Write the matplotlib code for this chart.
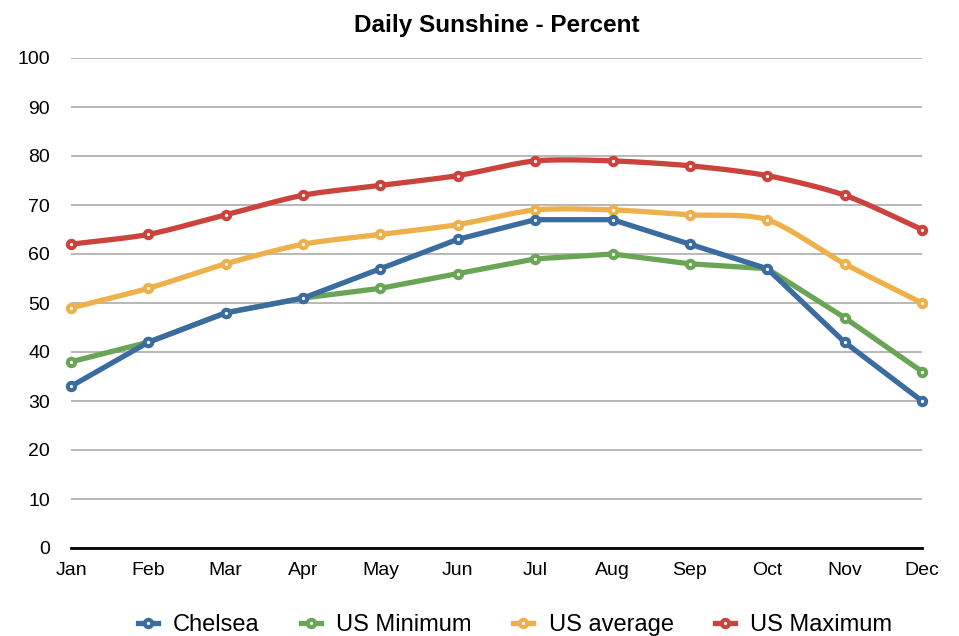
import numpy as np
import matplotlib
matplotlib.use("Agg")
import matplotlib.pyplot as plt
from matplotlib.lines import Line2D

plt.rcParams['font.family'] = ['Liberation Sans', 'DejaVu Sans']

months = ['Jan', 'Feb', 'Mar', 'Apr', 'May', 'Jun', 'Jul', 'Aug', 'Sep', 'Oct', 'Nov', 'Dec']
chelsea = [33, 42, 48, 51, 57, 63, 67, 67, 62, 57, 42, 30]
us_min = [38, 42, 48, 51, 53, 56, 59, 60, 58, 57, 47, 36]
us_avg = [49, 53, 58, 62, 64, 66, 69, 69, 68, 67, 58, 50]
us_max = [62, 64, 68, 72, 74, 76, 79, 79, 78, 76, 72, 65]

series = [
    ('Chelsea', chelsea, '#3b6ca0', False),
    ('US Minimum', us_min, '#6aa555', False),
    ('US average', us_avg, '#eeb04a', True),
    ('US Maximum', us_max, '#cc423c', True),
]


def smooth(xs, ys, n=30, tension=0.8):
    # catmull-rom style curve through the points, only for drawing
    xs = np.asarray(xs, float)
    ys = np.asarray(ys, float)
    px = np.concatenate([[2 * xs[0] - xs[1]], xs, [2 * xs[-1] - xs[-2]]])
    py = np.concatenate([[2 * ys[0] - ys[1]], ys, [2 * ys[-1] - ys[-2]]])
    outx, outy = [], []
    t = np.linspace(0, 1, n, endpoint=False)
    h00 = 2 * t ** 3 - 3 * t ** 2 + 1
    h10 = t ** 3 - 2 * t ** 2 + t
    h01 = -2 * t ** 3 + 3 * t ** 2
    h11 = t ** 3 - t ** 2
    for i in range(1, len(px) - 2):
        for p, out in ((px, outx), (py, outy)):
            m1 = tension * 0.5 * (p[i + 1] - p[i - 1])
            m2 = tension * 0.5 * (p[i + 2] - p[i])
            out.extend(h00 * p[i] + h10 * m1 + h01 * p[i + 1] + h11 * m2)
    outx.append(xs[-1])
    outy.append(ys[-1])
    return np.array(outx), np.array(outy)


fig = plt.figure(figsize=(9.59, 6.36), dpi=100)
ax = fig.add_axes([71 / 959, 88 / 636, 851 / 959, 490 / 636])

x = np.arange(len(months))
handles = []
for k, (name, vals, color, curved) in enumerate(series):
    z = 10 - k
    if curved:
        sx, sy = smooth(x, vals)
    else:
        sx, sy = x, vals
    ax.plot(sx, sy, color=color, lw=3.8, solid_capstyle='round',
            solid_joinstyle='round', zorder=z, clip_on=False)
    ax.plot(x, vals, ls='none', marker='o', ms=5.3, mew=2.9, mec=color,
            mfc='white', zorder=z + 0.5, clip_on=False)
    handles.append(Line2D([], [], color=color, lw=3.8, marker='o', ms=5.3,
                          mew=2.9, mec=color, mfc='white'))

ax.set_xlim(0, len(months) - 1)
ax.set_ylim(0, 100)
ax.set_yticks(range(0, 101, 10))
ax.set_xticks(x)
ax.set_xticklabels(months)
ax.yaxis.grid(True, color='#b8b8b8', lw=1.4)
ax.set_axisbelow(True)
for s in ['top', 'right', 'left']:
    ax.spines[s].set_visible(False)
ax.spines['bottom'].set_color('black')
ax.spines['bottom'].set_linewidth(2)
ax.spines['bottom'].set_zorder(3)
ax.tick_params(axis='both', length=0, labelsize=14, colors='black')
ax.tick_params(axis='y', pad=15)
ax.tick_params(axis='x', pad=10)

ax.set_title('Daily Sunshine - Percent', fontsize=17.5, fontweight='bold', pad=19)

fig.legend(handles, [s[0] for s in series], loc='center', ncol=4,
           bbox_to_anchor=(0.537, 0.017), frameon=False, fontsize=17,
           handlelength=0.85, handletextpad=0.65, columnspacing=1.75)

fig.savefig('out.png', dpi=100)
